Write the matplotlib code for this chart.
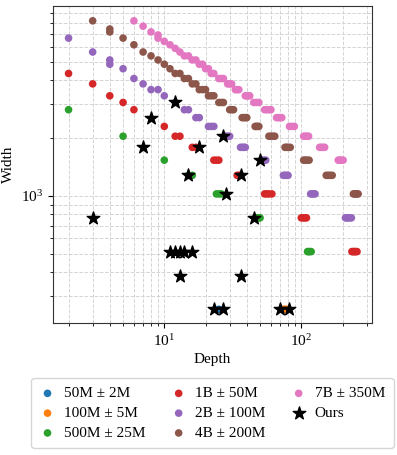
import matplotlib
matplotlib.use('Agg')
import matplotlib.pyplot as plt

plt.rcParams['font.family'] = ['Liberation Serif', 'DejaVu Serif']
plt.rcParams['mathtext.fontset'] = 'stix'
plt.rcParams['font.size'] = 11

# depth / width configurations per parameter budget
depth_50m = [25]
width_50m = [256]

depth_100m = [74, 76, 78]
width_100m = [256, 256, 256]

depth_500m = [2, 5, 10, 15, 16, 24, 25, 26, 46, 47, 48, 49, 50, 111, 113, 115, 118]
width_500m = [2816, 2048, 1536, 1280, 1280, 1024, 1024, 1024, 768, 768, 768, 768, 768,
              512, 512, 512, 512]

depth_1b = [2, 3, 4, 5, 6, 10, 12, 13, 16, 17, 23, 24, 25, 34, 35, 36, 54, 56, 58, 61,
            100, 103, 106, 109, 234, 238, 242, 246, 250, 255]
width_1b = [4352, 3840, 3328, 3072, 2816, 2304, 2048, 2048, 1792, 1792, 1536, 1536, 1536,
            1280, 1280, 1280, 1024, 1024, 1024, 1024, 768, 768, 768, 768,
            512, 512, 512, 512, 512, 512]

depth_2b = [2, 3, 4, 4, 5, 6, 7, 8, 9, 10, 12, 14, 15, 17, 18, 21, 22, 23, 28, 29, 30,
            36, 37, 38, 39, 51, 53, 55, 74, 76, 78, 80, 117, 120, 123, 126,
            210, 215, 220, 226, 232]
width_2b = [6656, 5632, 5120, 4864, 4608, 4096, 3840, 3584, 3584, 3328, 3072, 2816, 2816,
            2560, 2560, 2304, 2304, 2304, 2048, 2048, 2048, 1792, 1792, 1792, 1792,
            1536, 1536, 1536, 1280, 1280, 1280, 1280, 1024, 1024, 1024, 1024,
            768, 768, 768, 768, 768]

depth_4b = [3, 4, 4, 5, 6, 7, 8, 9, 10, 11, 12, 13, 14, 15, 16, 17, 18, 19, 20, 21, 22, 23,
            25, 26, 27, 30, 31, 32, 37, 38, 39, 40, 46, 47, 48, 49, 58, 60, 62, 64,
            76, 78, 80, 83, 104, 107, 110, 114, 152, 157, 162, 168, 240, 245, 250, 255, 260]
width_4b = [8192, 7424, 7168, 6656, 6144, 5632, 5376, 5120, 4864, 4608, 4352, 4352, 4096, 4096,
            3840, 3840, 3584, 3584, 3584, 3328, 3328, 3328, 3072, 3072, 3072,
            2816, 2816, 2816, 2560, 2560, 2560, 2560, 2304, 2304, 2304, 2304,
            2048, 2048, 2048, 2048, 1792, 1792, 1792, 1792, 1536, 1536, 1536, 1536,
            1280, 1280, 1280, 1280, 1024, 1024, 1024, 1024, 1024]

depth_7b = [6, 7, 8, 9, 9, 10, 11, 12, 13, 14, 15, 16, 17, 18, 19, 20, 21, 22, 23,
            25, 26, 27, 29, 30, 31, 33, 34, 35, 39, 40, 41, 42, 45, 47, 49, 54, 56, 58, 60,
            66, 68, 70, 72, 82, 85, 89, 104, 107, 110, 113, 136, 140, 144, 148,
            186, 191, 196, 202]
width_7b = [8192, 7680, 7168, 6912, 6656, 6400, 6144, 5888, 5632, 5376, 5376, 5120, 5120,
            4864, 4864, 4608, 4608, 4352, 4352, 4096, 4096, 4096, 3840, 3840, 3840,
            3584, 3584, 3584, 3328, 3328, 3328, 3328, 3072, 3072, 3072,
            2816, 2816, 2816, 2816, 2560, 2560, 2560, 2560, 2304, 2304, 2304,
            2048, 2048, 2048, 2048, 1792, 1792, 1792, 1792, 1536, 1536, 1536, 1536]

depth_ours = [3, 7, 8, 12, 15, 18, 27, 28, 36, 45, 50, 11, 12, 13, 14, 16, 13, 36, 23, 27, 70, 81]
width_ours = [768, 1792, 2560, 3072, 1280, 1792, 2048, 1024, 1280, 768, 1536,
              512, 512, 512, 512, 512, 384, 384, 256, 256, 256, 256]

series = [
    ('50M ± 2M', depth_50m, width_50m, 'tab:blue'),
    ('100M ± 5M', depth_100m, width_100m, 'tab:orange'),
    ('500M ± 25M', depth_500m, width_500m, 'tab:green'),
    ('1B ± 50M', depth_1b, width_1b, 'tab:red'),
    ('2B ± 100M', depth_2b, width_2b, 'tab:purple'),
    ('4B ± 200M', depth_4b, width_4b, 'tab:brown'),
    ('7B ± 350M', depth_7b, width_7b, 'tab:pink'),
]

fig = plt.figure(figsize=(3.97, 4.55), dpi=100)
ax = fig.add_axes([0.1335, 0.29, 0.8035, 0.697])

for label, d, w, c in series:
    ax.scatter(d, w, s=30, color=c, edgecolors='none', label=label, zorder=3)
ax.scatter(depth_ours, width_ours, s=90, marker='*', color='black', label='Ours', zorder=4)

ax.set_xscale('log')
ax.set_yscale('log')
ax.set_xlim(1.54, 328)
ax.set_ylim(217, 9800)
ax.grid(True, which='both', linestyle='--', color='#d4d4d4', linewidth=0.7)
ax.set_axisbelow(True)
for sp in ax.spines.values():
    sp.set_color('#333333')
ax.set_xlabel('Depth', labelpad=3)
ax.set_ylabel('Width')

ax.legend(loc='upper center', bbox_to_anchor=(0.5, -0.15), ncol=3,
          handlelength=1.0, handletextpad=0.55, columnspacing=1.7,
          labelspacing=0.4, borderpad=0.55)

fig.savefig('out.png', dpi=100)
